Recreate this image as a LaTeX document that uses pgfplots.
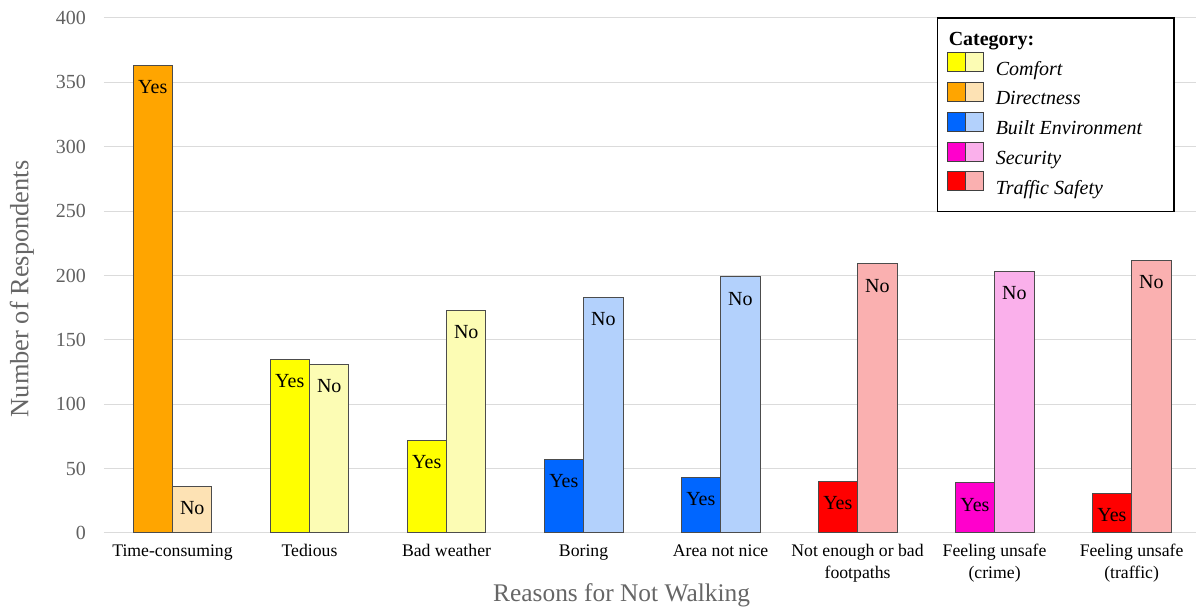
\documentclass[border=0pt]{standalone}
\usepackage{fontspec}
\setmainfont{Liberation Serif}
\usepackage{pgfplots}
\pgfplotsset{compat=1.18}
\definecolor{cOrange}{HTML}{FFA500}
\definecolor{cOrangeL}{HTML}{FDE2B4}
\definecolor{cYellow}{HTML}{FFFF00}
\definecolor{cYellowL}{HTML}{FCFCB4}
\definecolor{cBlue}{HTML}{0066FF}
\definecolor{cBlueL}{HTML}{B3D1FC}
\definecolor{cMag}{HTML}{FF00CC}
\definecolor{cMagL}{HTML}{FAB0EB}
\definecolor{cRed}{HTML}{FF0000}
\definecolor{cRedL}{HTML}{FAB0B0}
\pgfplotsset{
  yesbar/.style={draw=black!70, line width=0.5pt, bar shift=-0.144, forget plot,
    nodes near coords={Yes},
    every node near coord/.style={anchor=north, xshift=-9.87pt, yshift=-4pt, font=\fontsize{10}{12}\selectfont, text=black}},
  nobar/.style={draw=black!70, line width=0.5pt, bar shift=0.144, forget plot,
    nodes near coords={No},
    every node near coord/.style={anchor=north, xshift=9.87pt, yshift=-4pt, font=\fontsize{10}{12}\selectfont, text=black}},
}
\newcommand{\twobox}[2]{%
  \addlegendimage{legend image code/.code={%
    \draw[draw=black!75, line width=0.5pt, fill=#1] (0pt,-1pt) rectangle (9pt,8.5pt);
    \draw[draw=black!75, line width=0.5pt, fill=#2] (9pt,-1pt) rectangle (18pt,8.5pt);
    \path (21.5pt,3pt);}}}
\begin{document}
\begin{tikzpicture}
\begin{axis}[
  scale only axis,
  width=546pt, height=257.5pt,
  xmin=-0.5, xmax=7.47,
  ymin=0, ymax=400,
  ytick={0,50,...,400},
  xtick={0,...,7},
  xticklabels={Time-consuming, Tedious, Bad weather, Boring, Area not nice, {Not enough or bad\\footpaths}, {Feeling unsafe\\(crime)}, {Feeling unsafe\\(traffic)}},
  xticklabel style={align=center, font=\fontsize{8.85}{11}\selectfont, text=black, yshift=-2.2pt},
  yticklabel style={font=\fontsize{10}{12}\selectfont, text=black!62, xshift=-5.5pt},
  /pgf/number format/assume math mode=true,
  major tick length=0pt,
  axis line style={draw=none},
  ymajorgrids, grid style={draw=black!14, line width=0.5pt},
  ybar, bar width=0.288,
  ylabel={Number of Respondents},
  xlabel={Reasons for Not Walking},
  every axis y label/.style={at={(axis description cs:-0.0751,0.474)}, rotate=90, anchor=center, font=\fontsize{13.2}{15}\selectfont, text=black!60},
  every axis x label/.style={at={(axis description cs:0.474,-0.1204)}, anchor=center, font=\fontsize{12.7}{15}\selectfont, text=black!60},
  legend style={at={(1,1)}, anchor=north east, xshift=-10.5pt, yshift=0.5pt,
    draw=black, line width=0.8pt, fill=white, font=\fontsize{10}{12}\itshape,
    inner xsep=5pt, inner ysep=5pt},
  legend cell align=left,
]
% Time-consuming (Directness)
\addplot[yesbar, fill=cOrange] coordinates {(0,363)};
\addplot[nobar, fill=cOrangeL] coordinates {(0,36)};
% Tedious (Comfort)
\addplot[yesbar, fill=cYellow] coordinates {(1,135)};
\addplot[nobar, fill=cYellowL] coordinates {(1,131)};
% Bad weather (Comfort)
\addplot[yesbar, fill=cYellow] coordinates {(2,72)};
\addplot[nobar, fill=cYellowL] coordinates {(2,173)};
% Boring (Built Environment)
\addplot[yesbar, fill=cBlue] coordinates {(3,57)};
\addplot[nobar, fill=cBlueL] coordinates {(3,183)};
% Area not nice (Built Environment)
\addplot[yesbar, fill=cBlue] coordinates {(4,43)};
\addplot[nobar, fill=cBlueL] coordinates {(4,199)};
% Not enough or bad footpaths (Traffic Safety)
\addplot[yesbar, fill=cRed] coordinates {(5,40)};
\addplot[nobar, fill=cRedL] coordinates {(5,209)};
% Feeling unsafe (crime) (Security)
\addplot[yesbar, fill=cMag] coordinates {(6,39)};
\addplot[nobar, fill=cMagL] coordinates {(6,203)};
% Feeling unsafe (traffic) (Traffic Safety)
\addplot[yesbar, fill=cRed] coordinates {(7,31)};
\addplot[nobar, fill=cRedL] coordinates {(7,212)};

\addlegendimage{empty legend}
\addlegendentry{\hspace*{-23.5pt}\upshape\bfseries Category:}
\twobox{cYellow}{cYellowL}
\addlegendentry{Comfort}
\twobox{cOrange}{cOrangeL}
\addlegendentry{Directness}
\twobox{cBlue}{cBlueL}
\addlegendentry{Built Environment\hspace*{9pt}}
\twobox{cMag}{cMagL}
\addlegendentry{Security}
\twobox{cRed}{cRedL}
\addlegendentry{Traffic Safety}
\end{axis}
\pgfresetboundingbox
\path[use as bounding box] ([xshift=-52pt,yshift=-37.5pt]current axis.south west) rectangle ([yshift=9pt]current axis.north east);
\end{tikzpicture}
\end{document}
